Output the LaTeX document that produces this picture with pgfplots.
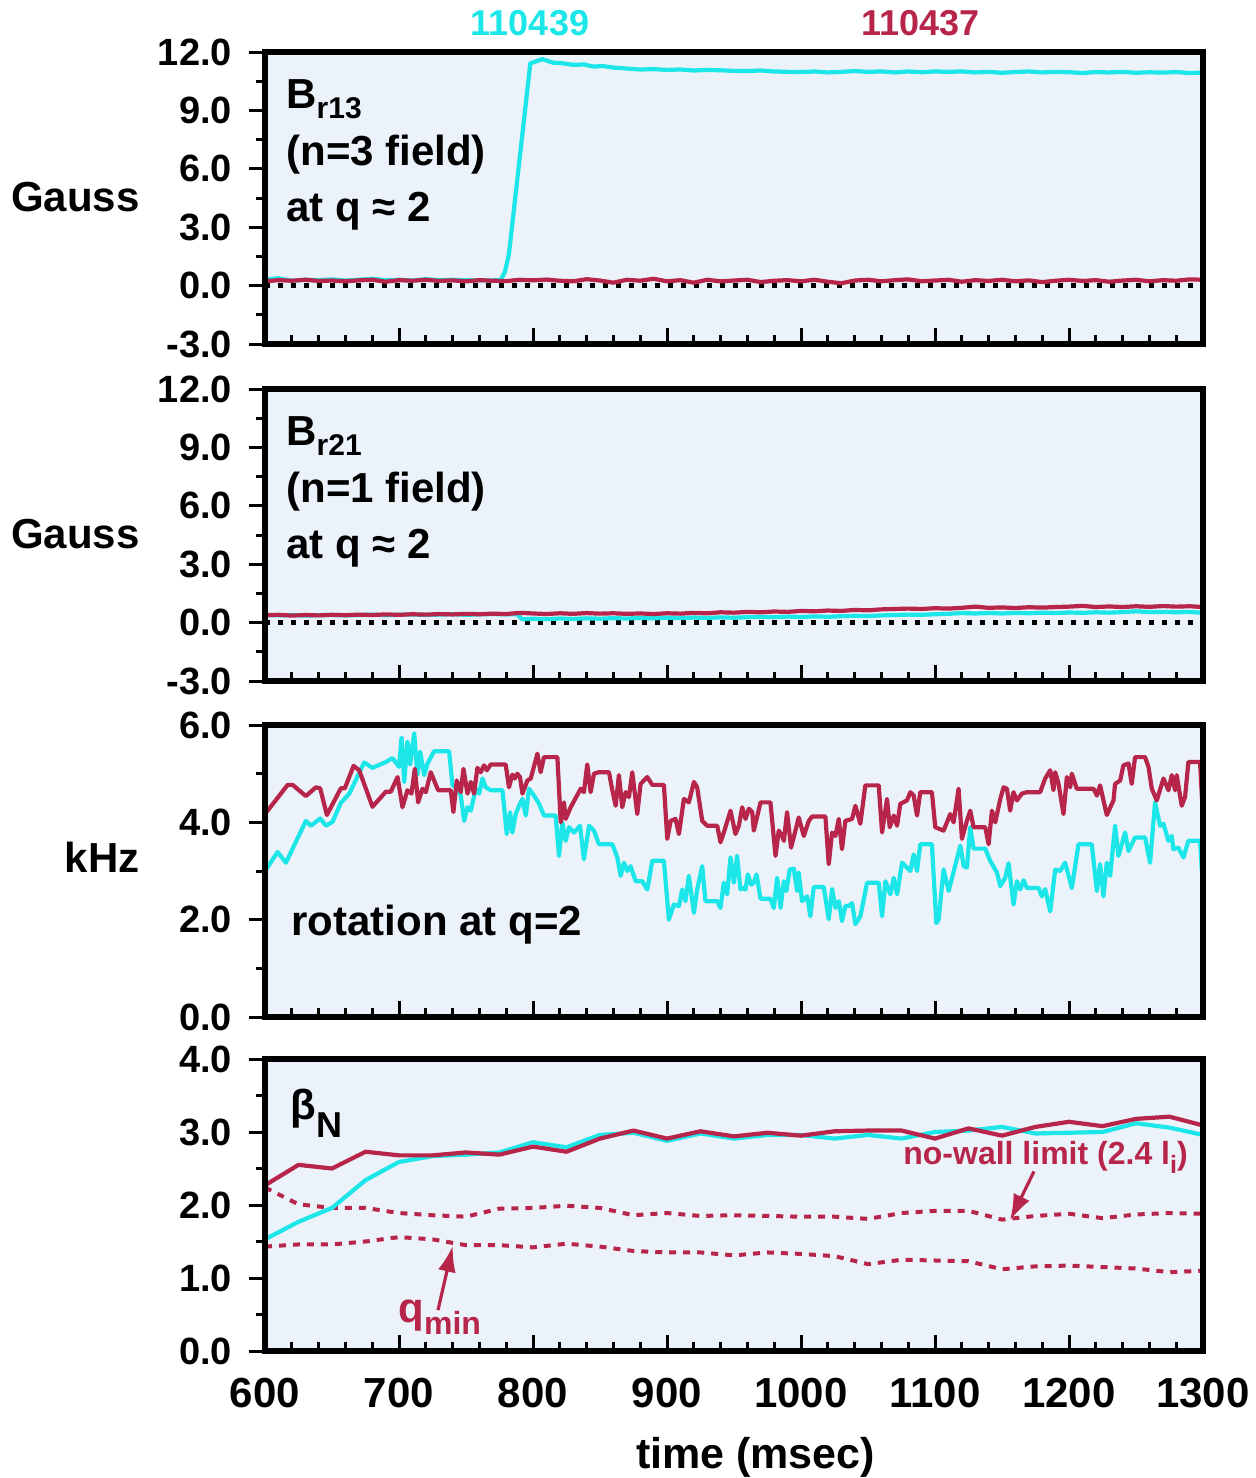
\documentclass[border=0pt]{standalone}
\usepackage{fontspec}
\setmainfont{Liberation Sans}
\usepackage{pgfplots}
\pgfplotsset{compat=1.18}
\usetikzlibrary{arrows.meta}
\definecolor{cy}{RGB}{28,230,232}
\definecolor{cr}{RGB}{183,38,74}
\definecolor{bg}{RGB}{235,242,250}
\newcommand\fs[1]{\fontsize{#1}{#1}\selectfont}
\newcommand\sub[2][5pt]{\raisebox{-#1}{\fs{15}#2}}
\tikzset{txt/.style={font=\fs{21}\bfseries, inner sep=0pt}}
\pgfplotsset{panel/.style={
  scale only axis, width=469pt, height=146pt, anchor=north west,
  xmin=600, xmax=1300, xtick={600,700,...,1300}, minor x tick num=4,
  xtick pos=left, ytick pos=left,
  tick align=inside, major tick length=8pt, minor tick length=4.5pt,
  tick style={line width=1.5pt, black},
  major y tick style={xshift=-8pt}, minor y tick style={xshift=-4.5pt},
  axis line style={line width=3pt},
  axis background/.style={fill=bg},
  axis on top, clip mode=individual,
  yticklabel style={font=\fs{19}\bfseries, xshift=-13pt,
    /pgf/number format/.cd, fixed, fixed zerofill, precision=1, assume math mode=true},
  xticklabel style={font=\fs{21}\bfseries, yshift=-10pt,
    /pgf/number format/.cd, set thousands separator={}, assume math mode=true},
  every axis plot/.append style={line width=2.1pt, line join=round},
}}
\begin{document}
\begin{tikzpicture}
\path[use as bounding box] (0,0) rectangle (628pt,-739pt);
% ---------------- Panel 1
\begin{axis}[panel, at={(132.5pt,-26pt)}, ymin=-3, ymax=12, ytick={-3,0,...,12}, minor y tick num=1, xticklabels={}]
\addplot[black, line width=2.2pt, dash pattern=on 2.5pt off 4pt] coordinates {(600,0) (1300,0)};
\addplot[cy] coordinates {(600,0.30)(610,0.38)(620,0.25)(630,0.30)(640,0.28)(650,0.32)(660,0.26)(670,0.30)(680,0.35)(690,0.28)(700,0.30)(710,0.26)(720,0.33)(730,0.28)(740,0.30)(750,0.27)(760,0.28)(770,0.26)(776,0.30)(779,0.7)(782,1.6)(798,11.42)(807,11.63)(815,11.45)(822,11.42)(830,11.34)(838,11.36)(845,11.25)(852,11.28)(860,11.20)(870,11.15)(880,11.10)(890,11.12)(900,11.08)(910,11.10)(920,11.05)(930,11.08)(940,11.06)(950,11.03)(960,11.02)(970,11.05)(980,11.00)(990,10.98)(1000,10.97)(1010,11.00)(1020,10.95)(1030,10.98)(1040,11.02)(1050,10.98)(1060,11.00)(1070,10.95)(1080,11.00)(1090,10.96)(1100,11.00)(1110,10.98)(1120,11.00)(1130,10.95)(1140,10.98)(1150,10.93)(1160,10.97)(1170,11.00)(1180,10.95)(1190,10.98)(1200,10.96)(1210,10.92)(1220,10.97)(1230,10.95)(1240,10.98)(1250,10.93)(1260,10.96)(1270,10.94)(1280,10.97)(1290,10.92)(1300,10.94)};
\addplot[cr] coordinates {(600,0.22)(610,0.28)(620,0.25)(630,0.30)(640,0.24)(650,0.26)(660,0.22)(670,0.27)(680,0.30)(690,0.20)(700,0.28)(710,0.25)(720,0.30)(730,0.24)(740,0.27)(750,0.22)(760,0.28)(770,0.25)(780,0.23)(790,0.30)(800,0.27)(810,0.31)(820,0.25)(830,0.22)(840,0.33)(850,0.26)(860,0.15)(870,0.30)(880,0.25)(890,0.35)(900,0.22)(910,0.28)(920,0.15)(930,0.30)(940,0.22)(950,0.26)(960,0.30)(970,0.18)(980,0.25)(990,0.28)(1000,0.22)(1010,0.30)(1020,0.20)(1030,0.12)(1040,0.26)(1050,0.30)(1060,0.22)(1070,0.28)(1080,0.32)(1090,0.22)(1100,0.26)(1110,0.30)(1120,0.20)(1130,0.28)(1140,0.24)(1150,0.30)(1160,0.22)(1170,0.27)(1180,0.18)(1190,0.25)(1200,0.30)(1210,0.24)(1220,0.28)(1230,0.20)(1240,0.26)(1250,0.30)(1260,0.22)(1270,0.28)(1280,0.25)(1290,0.32)(1300,0.30)};
\node[txt, anchor=base west] at (rel axis cs:0.0224,0.808) {B\sub{r13}};
\node[txt, anchor=base west] at (rel axis cs:0.0224,0.613) {(n=3 field)};
\node[txt, anchor=base west] at (rel axis cs:0.0224,0.418) {at q ≈ 2};
\node[txt, anchor=base east] at (rel axis cs:0,0.455) [xshift=-62.5pt] {Gauss};
\node[txt, anchor=base, text=cy, font=\fs{18}\bfseries] at (rel axis cs:0.2825,1) [yshift=8.5pt] {110439};
\node[txt, anchor=base, text=cr, font=\fs{18}\bfseries] at (rel axis cs:0.699,1) [yshift=8.5pt] {110437};
\end{axis}
% ---------------- Panel 2
\begin{axis}[panel, at={(132.5pt,-194.5pt)}, ymin=-3, ymax=12, ytick={-3,0,...,12}, minor y tick num=1, xticklabels={}]
\addplot[black, line width=2.2pt, dash pattern=on 2.5pt off 4pt] coordinates {(600,0) (1300,0)};
\addplot[cy] coordinates {(600,.38)(610,.37)(620,.39)(630,.36)(640,.38)(650,.40)(660,.37)(670,.39)(680,.41)(690,.38)(700,.40)(710,.42)(720,.39)(730,.41)(740,.43)(750,.40)(760,.42)(770,.44)(780,.42)(788,.43)(792,.17)(800,.20)(810,.18)(820,.21)(830,.19)(840,.22)(850,.20)(860,.23)(870,.21)(880,.24)(890,.22)(900,.25)(910,.23)(920,.26)(930,.24)(940,.27)(950,.25)(960,.28)(970,.30)(980,.28)(990,.31)(1000,.29)(1010,.32)(1020,.30)(1030,.33)(1040,.35)(1050,.34)(1060,.37)(1070,.39)(1080,.41)(1090,.40)(1100,.43)(1110,.45)(1120,.49)(1130,.47)(1140,.49)(1150,.47)(1160,.50)(1170,.48)(1180,.51)(1190,.49)(1200,.52)(1210,.50)(1220,.53)(1230,.51)(1240,.54)(1250,.58)(1260,.54)(1270,.55)(1280,.53)(1290,.55)(1300,.50)};
\addplot[cr] coordinates {(600,.38)(610,.40)(620,.36)(630,.39)(640,.37)(650,.40)(660,.38)(670,.41)(680,.39)(690,.42)(700,.40)(710,.43)(720,.41)(730,.44)(740,.42)(750,.45)(760,.43)(770,.46)(780,.44)(790,.50)(800,.47)(810,.44)(820,.48)(830,.45)(840,.49)(850,.46)(860,.48)(870,.45)(880,.47)(890,.44)(900,.48)(910,.46)(920,.50)(930,.48)(940,.53)(950,.51)(960,.55)(970,.53)(980,.57)(990,.55)(1000,.60)(1010,.58)(1020,.62)(1030,.60)(1040,.65)(1050,.63)(1060,.68)(1070,.70)(1080,.72)(1090,.70)(1100,.74)(1110,.72)(1120,.76)(1130,.82)(1140,.76)(1150,.78)(1160,.75)(1170,.79)(1180,.77)(1190,.80)(1200,.82)(1210,.86)(1220,.80)(1230,.83)(1240,.80)(1250,.84)(1260,.81)(1270,.85)(1280,.82)(1290,.84)(1300,.80)};
\node[txt, anchor=base west] at (rel axis cs:0.0224,0.808) {B\sub{r21}};
\node[txt, anchor=base west] at (rel axis cs:0.0224,0.613) {(n=1 field)};
\node[txt, anchor=base west] at (rel axis cs:0.0224,0.418) {at q ≈ 2};
\node[txt, anchor=base east] at (rel axis cs:0,0.455) [xshift=-62.5pt] {Gauss};
\end{axis}
% ---------------- Panel 3
\begin{axis}[panel, at={(132.5pt,-362.5pt)}, ymin=0, ymax=6, ytick={0,2,4,6}, minor y tick num=1, xticklabels={}]
\addplot[cy] coordinates {(600,3.00)(609.4,3.39)(615.6,3.17)(630.5,4.03)(634.3,3.93)(641.2,4.08)(645.5,3.93)(650.4,4.01)(656.6,4.40)(662.9,4.59)(674.0,5.23)(680.2,5.12)(690.2,5.24)(695.2,5.32)(700.1,5.14)(701.9,5.74)(703.9,4.83)(706.3,5.66)(708.3,5.19)(711.3,5.83)(713.8,4.98)(715.8,5.45)(718.8,4.97)(721.3,5.21)(726.2,5.46)(737.4,5.46)(739.9,4.76)(743.6,4.69)(746.1,4.55)(748.6,4.03)(751.1,4.31)(753.6,4.24)(757.3,4.69)(759.8,4.59)(762.3,4.90)(764.7,4.72)(768.5,4.66)(777.2,4.66)(780.4,3.76)(782.9,4.21)(784.6,3.79)(787.1,4.17)(789.6,4.34)(792.1,4.48)(794.6,4.14)(797.0,4.69)(800.8,4.55)(804.5,4.38)(808.2,4.14)(816.9,4.14)(819.4,3.31)(821.9,4.00)(824.4,3.62)(826.9,3.90)(830.6,3.79)(835.1,3.93)(838.0,3.24)(841.8,3.93)(845.5,3.83)(849.2,3.55)(859.2,3.55)(862.9,3.28)(865.4,2.90)(867.9,3.17)(870.4,3.00)(872.8,3.10)(876.6,2.79)(881.5,2.79)(885.3,2.62)(889.0,3.21)(897.7,3.21)(901.4,2.00)(905.1,2.31)(908.9,2.28)(911.4,2.62)(913.8,2.38)(916.3,2.90)(920.1,2.14)(922.5,2.62)(926.3,3.10)(928.7,2.38)(937.5,2.38)(939.9,2.24)(942.4,2.76)(944.9,2.52)(947.4,3.28)(949.9,2.76)(952.3,3.31)(954.8,2.62)(956.1,2.66)(958.6,2.62)(960.3,2.93)(962.8,2.72)(964.8,2.76)(966.8,2.93)(969.8,2.43)(977.2,2.43)(979.7,2.24)(982.2,2.86)(984.7,2.24)(987.2,2.79)(989.1,2.59)(991.6,3.03)(994.6,3.05)(997.1,2.59)(998.3,2.97)(1000.8,2.38)(1004.6,2.48)(1007.0,2.07)(1009.5,2.67)(1017.0,2.67)(1020.7,2.01)(1023.2,2.63)(1025.7,2.24)(1028.2,2.38)(1030.6,1.97)(1033.1,2.28)(1035.6,2.28)(1038.1,2.34)(1040.6,1.91)(1044.3,2.07)(1049.3,2.76)(1058.0,2.76)(1060.5,2.07)(1063.0,2.79)(1066.7,2.52)(1069.2,2.86)(1071.7,2.52)(1075.4,3.17)(1081.6,3.00)(1084.1,3.34)(1086.6,3.00)(1089.0,3.55)(1097.7,3.55)(1101.0,1.93)(1102.7,2.00)(1106.4,3.03)(1110.2,2.59)(1118.9,3.52)(1121.4,3.10)(1123.8,3.07)(1126.3,3.90)(1128.8,3.46)(1137.5,3.46)(1141.2,3.21)(1146.2,2.97)(1148.7,2.69)(1152.4,2.86)(1154.9,3.16)(1158.6,2.31)(1161.1,2.79)(1163.6,2.62)(1166.1,2.81)(1168.6,2.65)(1177.3,2.65)(1179.7,2.48)(1182.2,2.63)(1186.0,2.17)(1189.7,3.03)(1193.4,3.00)(1197.1,3.17)(1202.1,2.65)(1207.1,3.55)(1217.0,3.55)(1220.8,2.59)(1223.2,3.14)(1225.7,2.48)(1228.2,3.17)(1230.7,2.90)(1234.4,3.93)(1236.9,3.31)(1241.9,3.79)(1244.4,3.41)(1249.3,3.69)(1256.8,3.69)(1260.5,3.17)(1264.2,4.41)(1268.0,3.93)(1270.5,3.97)(1274.2,3.62)(1276.7,3.72)(1277.9,3.45)(1281.6,3.48)(1285.4,3.28)(1289.1,3.62)(1297.8,3.62)(1300,2.62)};
\addplot[cr] coordinates {(600,4.17)(616.9,4.77)(620.6,4.77)(630.5,4.54)(638.0,4.72)(641.2,4.70)(646.2,4.15)(656.6,4.70)(659.6,4.70)(666.1,5.16)(670.3,5.07)(680.2,4.32)(690.2,4.63)(693.9,4.63)(698.9,4.93)(702.6,4.31)(706.3,4.66)(709.3,4.59)(711.8,5.10)(714.3,4.41)(717.5,4.69)(720.0,4.62)(723.7,5.03)(726.2,4.86)(729.2,4.66)(738.6,4.66)(740.6,4.21)(743.1,4.86)(746.1,4.62)(748.1,5.10)(751.1,4.59)(753.6,4.83)(756.0,4.59)(758.5,5.12)(761.0,5.03)(763.5,5.17)(765.5,5.07)(768.5,5.19)(779.6,5.19)(782.1,4.72)(784.6,4.98)(786.4,4.90)(788.3,5.00)(790.3,4.93)(792.1,4.59)(795.8,4.86)(798.3,4.90)(803.3,5.41)(805.7,5.03)(808.2,5.34)(818.2,5.34)(820.7,4.00)(823.1,4.41)(824.4,4.07)(828.1,4.31)(835.6,4.69)(838.0,4.62)(840.5,5.19)(843.0,4.62)(845.5,5.00)(849.2,5.03)(856.7,5.03)(859.2,4.66)(861.7,4.34)(864.1,4.97)(866.6,4.31)(869.1,4.62)(871.6,4.52)(874.1,5.03)(877.8,4.17)(880.3,4.79)(885.3,4.93)(889.0,4.77)(897.7,4.77)(900.2,3.66)(902.7,4.03)(906.4,4.07)(908.9,3.76)(912.6,4.48)(916.3,4.41)(920.1,4.83)(922.5,4.72)(926.3,4.03)(930.0,3.93)(937.5,3.93)(939.9,3.59)(942.4,3.79)(947.4,4.24)(951.1,3.76)(953.6,3.93)(956.1,4.31)(958.6,4.07)(961.1,4.28)(963.6,4.21)(964.8,3.83)(969.8,4.41)(977.2,4.41)(981.0,3.31)(983.4,3.83)(985.9,3.72)(987.2,3.62)(989.6,4.21)(992.6,3.48)(998.3,4.10)(1002.1,3.72)(1005.8,4.03)(1008.3,4.12)(1018.2,4.12)(1020.7,3.14)(1023.2,3.79)(1025.7,3.72)(1028.2,4.07)(1030.6,3.45)(1033.1,4.03)(1038.1,4.07)(1040.6,4.34)(1044.3,3.97)(1048.0,4.76)(1058.0,4.76)(1060.5,3.79)(1064.2,4.48)(1066.2,3.90)(1069.2,4.14)(1071.7,3.93)(1074.1,4.38)(1079.1,4.45)(1081.6,4.62)(1084.1,4.55)(1086.6,4.14)(1089.0,4.62)(1097.7,4.62)(1100.2,3.90)(1106.4,3.83)(1111.4,4.17)(1113.9,4.00)(1117.6,4.69)(1120.1,3.66)(1123.8,4.03)(1126.3,4.24)(1128.8,3.90)(1137.5,3.90)(1140.0,3.55)(1142.5,4.24)(1145.0,4.00)(1148.7,4.48)(1151.2,4.72)(1153.7,4.69)(1156.1,4.24)(1158.6,4.62)(1161.1,4.45)(1164.8,4.59)(1168.6,4.62)(1178.5,4.62)(1182.2,4.90)(1186.0,5.07)(1188.4,4.66)(1189.7,5.03)(1192.2,4.79)(1195.9,4.17)(1198.4,4.93)(1200.9,4.72)(1202.1,5.00)(1205.8,4.69)(1218.3,4.69)(1220.8,4.55)(1223.2,4.76)(1228.2,4.15)(1233.2,4.45)(1234.4,4.79)(1238.2,4.86)(1240.6,5.17)(1244.4,5.21)(1246.8,4.79)(1249.3,5.34)(1256.8,5.34)(1259.3,5.14)(1261.8,4.69)(1265.5,4.45)(1270.5,4.90)(1274.2,4.66)(1276.7,4.97)(1279.2,4.66)(1280.4,4.97)(1284.1,4.34)(1286.6,4.52)(1289.1,5.24)(1297.8,5.24)(1300,4.10)};
\node[txt, anchor=base west] at (rel axis cs:0.0277,0.278) {rotation at q=2};
\node[txt, anchor=base east] at (rel axis cs:0,0.495) [xshift=-62.5pt] {kHz};
\end{axis}
% ---------------- Panel 4
\begin{axis}[panel, at={(132.5pt,-529.5pt)}, ymin=0, ymax=4, ytick={0,1,2,3,4}, minor y tick num=1]
\addplot[cr, line width=2pt, dash pattern=on 3.5pt off 3.5pt] coordinates {(600,2.24)(625,2.01)(650,1.96)(675,1.96)(700,1.89)(725,1.86)(750,1.84)(775,1.95)(800,1.96)(825,1.99)(850,1.96)(875,1.86)(900,1.89)(925,1.85)(950,1.86)(975,1.85)(1000,1.84)(1025,1.84)(1050,1.81)(1075,1.89)(1100,1.92)(1125,1.92)(1150,1.80)(1175,1.85)(1200,1.88)(1225,1.82)(1250,1.87)(1275,1.89)(1300,1.88)};
\addplot[cr, line width=2pt, dash pattern=on 3.5pt off 3.5pt] coordinates {(600,1.43)(625,1.46)(650,1.46)(675,1.50)(700,1.56)(725,1.53)(750,1.45)(775,1.45)(800,1.42)(825,1.47)(850,1.43)(875,1.37)(900,1.35)(925,1.35)(950,1.31)(975,1.35)(1000,1.33)(1025,1.30)(1050,1.19)(1075,1.25)(1100,1.24)(1125,1.23)(1150,1.12)(1175,1.16)(1200,1.17)(1225,1.15)(1250,1.13)(1275,1.08)(1300,1.10)};
\addplot[cy] coordinates {(600,1.53)(625,1.77)(650,1.96)(675,2.34)(700,2.59)(725,2.67)(750,2.69)(775,2.72)(800,2.86)(825,2.79)(850,2.96)(875,2.99)(900,2.88)(925,2.98)(950,2.91)(975,2.96)(1000,2.96)(1025,2.91)(1050,2.96)(1075,2.91)(1100,3.00)(1125,3.02)(1150,3.07)(1175,2.98)(1200,2.99)(1225,3.00)(1250,3.12)(1275,3.06)(1300,2.96)};
\addplot[cr] coordinates {(600,2.27)(625,2.55)(650,2.50)(675,2.73)(700,2.68)(725,2.68)(750,2.72)(775,2.69)(800,2.80)(825,2.73)(850,2.91)(875,3.02)(900,2.91)(925,3.01)(950,2.94)(975,2.99)(1000,2.95)(1025,3.01)(1050,3.02)(1075,3.02)(1100,2.91)(1125,3.05)(1150,2.95)(1175,3.07)(1200,3.14)(1225,3.08)(1250,3.18)(1275,3.21)(1300,3.09)};
\draw[cr, line width=1.6pt, -{Latex[length=13pt,width=9pt]}] (axis cs:1173.9,2.46) -- (axis cs:1156,1.79);
\draw[cr, line width=1.6pt, -{Latex[length=13pt,width=9pt]}] (axis cs:729.1,0.56) -- (axis cs:740.1,1.44);
\node[txt, anchor=base west, text=cr, font=\fs{16}\bfseries] at (axis cs:1076.1,2.56) {no-wall limit (2.4 l\raisebox{-4.5pt}{\fs{12.5}i})};
\node[txt, anchor=base west, text=cr] at (axis cs:699.3,0.385) {q\raisebox{-6pt}{\fs{16}min}};
\node[txt, anchor=base west] at (rel axis cs:0.0267,0.794) {β\raisebox{-9pt}{\fs{18}N}};
\node[txt, anchor=base] at (rel axis cs:0.523,0) [yshift=-58.5pt, font=\fs{21.5}\bfseries] {time (msec)};
\end{axis}
\end{tikzpicture}
\end{document}
